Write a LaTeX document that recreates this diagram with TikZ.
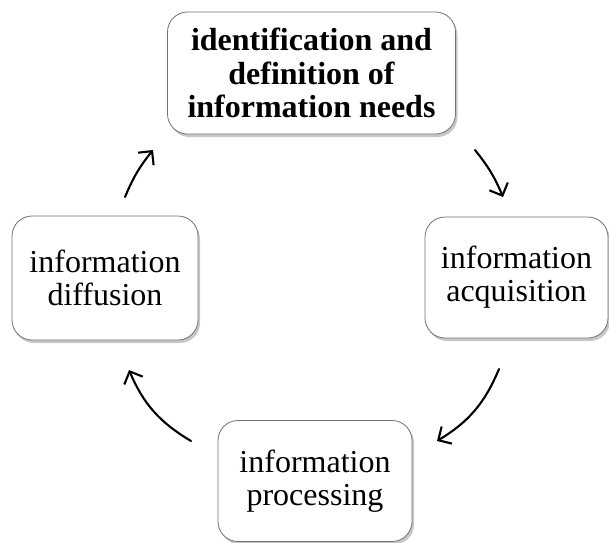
\documentclass[tikz,border=0pt]{standalone}
\usepackage{fontspec}
\setmainfont{Liberation Serif}
\usetikzlibrary{shadows,arrows.meta}
\colorlet{boxline}{black!55}

\begin{document}
\begin{tikzpicture}[x=1pt,y=-1pt,
    stagebox/.style={draw=boxline, line width=0.8pt, fill=white, rounded corners=20pt,
        align=center, inner sep=0pt, font=\fontsize{32}{33}\selectfont,
        drop shadow={shadow xshift=2pt, shadow yshift=-3pt, opacity=0.22, fill=black}},
    cyclearrow/.style={-{Straight Barb[length=10pt,width=20pt]}, line width=2.1pt, line cap=round}]
        \useasboundingbox (0,0) rectangle (609,542);
        % the four stages
        \node[stagebox, minimum width=288pt, minimum height=122pt, font=\fontsize{32}{33.5}\selectfont\bfseries]
            (needs) at (311.5,73) {identification and\\definition of\\information needs};
        \node[stagebox, minimum width=183pt, minimum height=121pt]
            (acquisition) at (516.5,277.5) {information\\acquisition};
        \node[stagebox, minimum width=194pt, minimum height=121pt]
            (processing) at (315,481) {information\\processing};
        \node[stagebox, minimum width=186pt, minimum height=124pt]
            (diffusion) at (105,278) {information\\diffusion};
        % arrow ends
        \coordinate (a1) at (475,150);
        \coordinate (b1) at (503,197);
        \coordinate (a2) at (499,369);
        \coordinate (b2) at (437,441);
        \coordinate (a3) at (191,441);
        \coordinate (b3) at (129,370);
        \coordinate (a4) at (125,197);
        \coordinate (b4) at (153,150);
        \draw[cyclearrow] (a1) to[bend left=8] (b1);
        \draw[cyclearrow] (a2) to[bend left=18] (b2);
        \draw[cyclearrow] (a3) to[bend left=18] (b3);
        \draw[cyclearrow] (a4) to[bend left=8] (b4);
    \end{tikzpicture}
\end{document}
